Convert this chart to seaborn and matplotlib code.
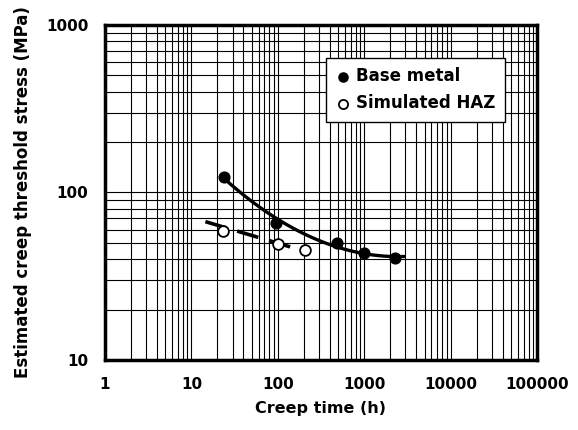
import numpy as np
import pandas as pd
import matplotlib
matplotlib.use("Agg")
import matplotlib.pyplot as plt
import seaborn as sns
from matplotlib.ticker import LogLocator, FixedLocator, NullFormatter

# Data
base_time = [24, 95, 480, 1000, 2300]
base_stress = [124, 66, 50, 43.5, 40.5]
haz_time = [23, 100, 205]
haz_stress = [59, 49.5, 45.5]
haz_line_time = [14.5, 140]
haz_line_stress = [67, 47.3]
x_ticks = [1, 10, 100, 1000, 10000, 100000]
x_labels = ["1", "10", "100", "1000", "10000", "100000"]
y_ticks = [10, 100, 1000]
y_labels = ["10", "100", "1000"]

sns.set_theme(style="white")
plt.rcParams['font.family'] = ['DejaVu Sans']

fig = plt.figure(figsize=(5.78, 4.30), dpi=100)
ax = fig.add_axes([0.1817, 0.1628, 0.7473, 0.7791])

# Fitted trend curve for base metal (log-log quadratic)
lb = np.log10(base_time); ls = np.log10(base_stress)
cb = np.polyfit(lb, ls, 2)
xb = np.linspace(np.log10(24), np.log10(2900), 100)
curve_b = pd.DataFrame({"t": 10**xb, "s": 10**np.polyval(cb, xb)})
curve_h = pd.DataFrame({"t": haz_line_time, "s": haz_line_stress})

sns.lineplot(data=curve_b, x="t", y="s", ax=ax, color="black", lw=2.4, sort=False)
sns.lineplot(data=curve_h, x="t", y="s", ax=ax, color="black", lw=2.6,
             sort=False, linestyle=(0, (6.1, 3.1)))

df_b = pd.DataFrame({"t": base_time, "s": base_stress})
df_h = pd.DataFrame({"t": haz_time, "s": haz_stress})
sns.scatterplot(data=df_b, x="t", y="s", ax=ax, color="black", s=60,
                edgecolor="black", linewidth=1, zorder=5, label="Base metal")
sns.scatterplot(data=df_h, x="t", y="s", ax=ax, color="white", s=60,
                edgecolor="black", linewidth=1.3, zorder=5, label="Simulated HAZ")

ax.set_xscale("log")
ax.set_yscale("log")
ax.set_xlim(1, 100000)
ax.set_ylim(10, 1000)
ax.xaxis.set_major_locator(FixedLocator(x_ticks))
ax.set_xticklabels(x_labels)
ax.yaxis.set_major_locator(FixedLocator(y_ticks))
ax.set_yticklabels(y_labels)
ax.xaxis.set_minor_locator(LogLocator(base=10, subs=np.arange(2, 10)))
ax.yaxis.set_minor_locator(LogLocator(base=10, subs=np.arange(2, 10)))
ax.xaxis.set_minor_formatter(NullFormatter())
ax.yaxis.set_minor_formatter(NullFormatter())
ax.grid(True, which="both", color="black", lw=0.8)
ax.set_axisbelow(True)
ax.tick_params(axis="x", which="both", length=0, pad=12, colors="black")
ax.tick_params(axis="y", which="both", length=0, pad=12, colors="black")
for lab in ax.get_xticklabels() + ax.get_yticklabels():
    lab.set_fontsize(11)
    lab.set_fontweight("bold")

for sp in ax.spines.values():
    sp.set_visible(True)
    sp.set_color("black")
    sp.set_linewidth(2.5)

ax.set_xlabel("Creep time (h)", fontsize=11.5, fontweight="bold", labelpad=7,
              color="black")
ax.set_ylabel("Estimated creep threshold stress (MPa)", fontsize=12,
              fontweight="bold", labelpad=10, color="black")

leg = ax.legend(loc="upper right", bbox_to_anchor=(0.926, 0.901), frameon=True,
                fancybox=False, edgecolor="black", framealpha=1,
                prop={"weight": "bold", "size": 12}, handletextpad=0.3,
                borderpad=0.55, labelspacing=0.55, handlelength=1.0,
                borderaxespad=0, markerscale=0.85)
leg.get_frame().set_linewidth(1.0)
for t in leg.get_texts():
    t.set_color("black")

fig.savefig("out.png", dpi=100)
